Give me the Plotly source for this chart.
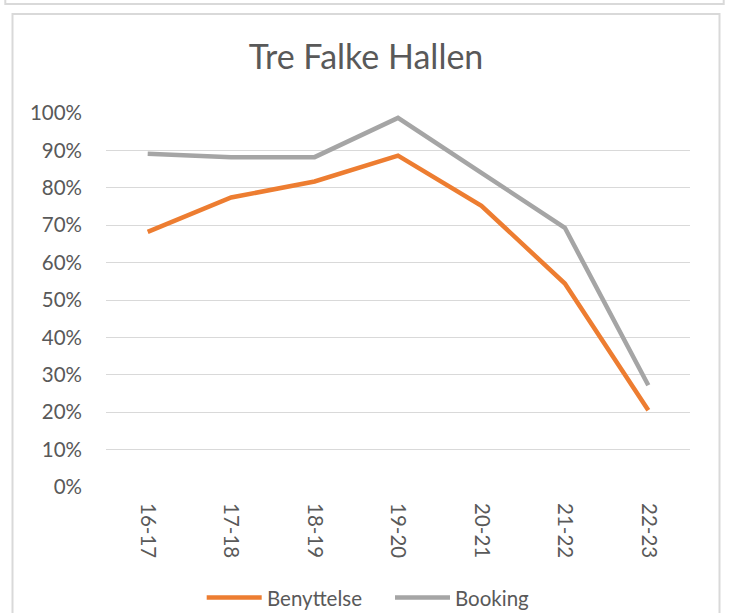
import plotly.graph_objects as go

categories = ["16-17", "17-18", "18-19", "19-20", "20-21", "21-22", "22-23"]
benyttelse = [0.682, 0.774, 0.817, 0.886, 0.752, 0.544, 0.205]
booking = [0.891, 0.882, 0.882, 0.987, 0.840, 0.693, 0.272]
series_names = ["Benyttelse", "Booking"]
series_colors = ["#ED7D31", "#A5A5A5"]
y_ticks = [i / 10 for i in range(11)]
y_tick_labels = [f"{i * 10}%" for i in range(11)]
title_text = "Tre Falke Hallen"

W, H = 731, 613
L, R, T, B = 106, 41, 113, 126
PW, PH = W - L - R, H - T - B
FONT = "Lato"
GREY_TXT = "#595959"


def px(x):
    return (x - L) / PW


def py(y):
    return (H - B - y) / PH


fig = go.Figure()
for name, vals, col in zip(series_names, [benyttelse, booking], series_colors):
    fig.add_trace(go.Scatter(x=categories, y=vals, mode="lines", name=name,
                             line=dict(color=col, width=4.5), showlegend=False))

shapes = []
border = dict(color="#D9D9D9", width=2)
# outer chart frame
shapes.append(dict(type="rect", xref="paper", yref="paper",
                   x0=px(12.5), x1=px(719.5), y0=py(H + 5), y1=py(14), line=border))
# bottom edge of the chart above
shapes.append(dict(type="path", xref="paper", yref="paper",
                   path=f"M{px(5.3)},{py(-3)} L{px(5.3)},{py(4)} L{px(723.7)},{py(4)} L{px(723.7)},{py(-3)}",
                   line=border))

# custom legend
annotations = []
legend_items = [(206.7, 261.7, 265), (395, 450, 453)]
for (x0, x1, tx), name, col in zip(legend_items, series_names, series_colors):
    shapes.append(dict(type="line", xref="paper", yref="paper",
                       x0=px(x0), x1=px(x1), y0=py(597.5), y1=py(597.5),
                       line=dict(color=col, width=4.5)))
    annotations.append(dict(xref="paper", yref="paper", x=px(tx), y=py(597.5),
                            xanchor="left", yanchor="middle", text=name, showarrow=False,
                            font=dict(family=FONT, size=20.5, color=GREY_TXT)))

fig.update_layout(
    width=W, height=H,
    margin=dict(l=L, r=R, t=T, b=B, pad=0),
    paper_bgcolor="white", plot_bgcolor="white",
    title=dict(text=title_text, x=366 / W, xanchor="center",
               y=(H - 57) / H, yanchor="middle", yref="container",
               font=dict(family=FONT, size=34, color=GREY_TXT)),
    shapes=shapes, annotations=annotations,
    xaxis=dict(type="category", range=[-0.5, len(categories) - 0.5],
               tickangle=90, showgrid=False, showline=False,
               ticks="", zeroline=False, ticklabelstandoff=15,
               tickfont=dict(family=FONT, size=20.5, color=GREY_TXT)),
    yaxis=dict(range=[0, 1], tickvals=y_ticks, ticktext=y_tick_labels,
               showgrid=True, gridcolor="#D9D9D9", gridwidth=1.3,
               zeroline=False, showline=False, ticks="", ticklabelstandoff=23,
               tickfont=dict(family=FONT, size=20.5, color=GREY_TXT)),
)

fig.write_html("out.html", config={"displayModeBar": False},
               post_script="document.body.style.margin='0';document.body.style.overflow='hidden';")
